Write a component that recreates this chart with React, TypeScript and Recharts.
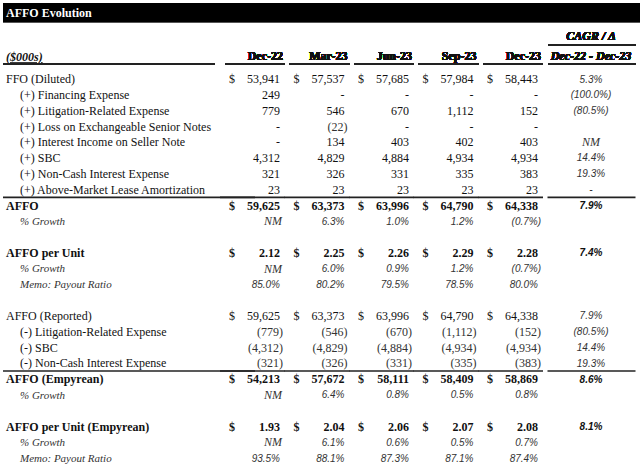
import React from "react";
import { ScatterChart, Scatter, XAxis, YAxis } from "recharts";

// table columns (x categories)
const columns = ["Dec-22", "Mar-23", "Jun-23", "Sep-23", "Dec-23", "CAGR"];

// row labels, "" = spacer row
const rowLabels = [
  "FFO (Diluted)",
  "(+) Financing Expense",
  "(+) Litigation-Related Expense",
  "(+) Loss on Exchangeable Senior Notes",
  "(+) Interest Income on Seller Note",
  "(+) SBC",
  "(+) Non-Cash Interest Expense",
  "(+) Above-Market Lease Amortization",
  "AFFO",
  "% Growth",
  "",
  "AFFO per Unit",
  "% Growth",
  "Memo: Payout Ratio",
  "",
  "AFFO (Reported)",
  "(-) Litigation-Related Expense",
  "(-) SBC",
  "(-) Non-Cash Interest Expense",
  "AFFO (Empyrean)",
  "% Growth",
  "",
  "AFFO per Unit (Empyrean)",
  "% Growth",
  "Memo: Payout Ratio",
];

const rowKinds = [
  "lead", "item", "item", "item", "item", "item", "item", "item",
  "total", "growth", "gap",
  "unit", "growth", "memo", "gap",
  "lead", "item", "item", "item",
  "total", "growth", "gap",
  "unit", "growth", "memo",
];

// values; 0 shows as "-", null as blank
const dec22 = [53941, 249, 779, 0, 0, 4312, 321, 23, 59625, "NM", null, 2.12, "NM", 85.0, null, 59625, -779, -4312, -321, 54213, "NM", null, 1.93, "NM", 93.5];
const mar23 = [57537, 0, 546, -22, 134, 4829, 326, 23, 63373, 6.3, null, 2.25, 6.0, 80.2, null, 63373, -546, -4829, -326, 57672, 6.4, null, 2.04, 6.1, 88.1];
const jun23 = [57685, 0, 670, 0, 403, 4884, 331, 23, 63996, 1.0, null, 2.26, 0.9, 79.5, null, 63996, -670, -4884, -331, 58111, 0.8, null, 2.06, 0.6, 87.3];
const sep23 = [57984, 0, 1112, 0, 402, 4934, 335, 23, 64790, 1.2, null, 2.29, 1.2, 78.5, null, 64790, -1112, -4934, -335, 58409, 0.5, null, 2.07, 0.5, 87.1];
const dec23 = [58443, 0, 152, 0, 403, 4934, 383, 23, 64338, -0.7, null, 2.28, -0.7, 80.0, null, 64338, -152, -4934, -383, 58869, 0.8, null, 2.08, 0.7, 87.4];
const cagr = [5.3, -100.0, -80.5, null, "NM", 14.4, 19.3, 0, 7.9, null, null, 7.4, null, null, null, 7.9, -80.5, 14.4, 19.3, 8.6, null, null, 8.1, null, null];

const colValues = [dec22, mar23, jun23, sep23, dec23, cagr];

const serif = "'Liberation Serif', 'Times New Roman', Tinos, serif";
const sans = "'Liberation Sans', Arial, sans-serif";
const ink = "#111";
const ruledRows = [8, 19];

function fmt(v: any, pct: boolean, dec: number) {
  if (v === null || v === undefined) return "";
  if (typeof v === "string") return v;
  if (v === 0) return "-";
  const a = Math.abs(v);
  const s = pct ? a.toFixed(1) + "%" : dec ? a.toFixed(dec) : a.toLocaleString("en-US");
  return v < 0 ? `(${s})` : s;
}

const font = (family: string, size: number, weight = "normal", style = "normal") => ({
  fontFamily: family,
  fontSize: size,
  fontWeight: weight,
  fontStyle: style,
});

function RowLabel(props: any) {
  const { x, y, payload } = props;
  const i = Number(payload.value);
  const kind = rowKinds[i];
  const indent = kind === "item" || kind === "growth" || kind === "memo";
  const left = x - 249 + (indent ? 14 : 0);
  const soft = kind === "growth" || kind === "memo";
  return (
    <g>
      {i === 0 && (
        <g>
          <text x={x - 249} y={y - 22} dy="0.35em" style={{ ...font(serif, 12, "bold", "italic"), textDecoration: "underline" }} fill={ink}>
            ($000s)
          </text>
          <line x1={x - 252} x2={x - 40} y1={y - 15} y2={y - 15} stroke="#222" strokeWidth={2} />
        </g>
      )}
      {ruledRows.includes(i) && <line x1={x - 252} x2={x} y1={y - 8} y2={y - 8} stroke="#222" strokeWidth={1.6} />}
      <text
        x={left}
        y={y}
        dy="0.35em"
        style={font(serif, soft ? 11 : 12, kind === "total" || kind === "unit" ? "bold" : "normal", soft ? "italic" : "normal")}
        fill={soft ? "#333" : ink}
      >
        {rowLabels[i]}
      </text>
    </g>
  );
}

function ColHeader(props: any) {
  const { x, y, payload } = props;
  const col = payload.value;
  if (col === "CAGR") {
    const c = x + 13.5;
    return (
      <g>
        <text x={c} y={y - 43} dy="0.35em" textAnchor="middle" style={font(serif, 12, "bold", "italic")} fill={ink}>CAGR / Δ</text>
        <line x1={c - 43} x2={c + 45} y1={y - 34} y2={y - 34} stroke="#222" strokeWidth={1.6} />
        <text x={c} y={y - 23} dy="0.35em" textAnchor="middle" style={font(serif, 12, "bold", "italic")} fill={ink}>Dec-22 - Dec-23</text>
        <line x1={c - 43} x2={c + 45} y1={y - 15} y2={y - 15} stroke="#222" strokeWidth={2} />
      </g>
    );
  }
  return (
    <g>
      <text x={x + 28} y={y - 23} dy="0.35em" textAnchor="end" style={font(serif, 12, "bold")} fill={ink}>{col}</text>
      <line x1={x - 30} x2={x + 30} y1={y - 15} y2={y - 15} stroke="#222" strokeWidth={2} />
    </g>
  );
}

function CellText(props: any) {
  const { cx, cy, payload } = props;
  const { col, row, v } = payload;
  const kind = rowKinds[row];
  const bold = kind === "total" || kind === "unit";
  const isCagr = col === "CAGR";
  const parts: any[] = [];

  if (ruledRows.includes(row)) {
    parts.push(
      isCagr ? (
        <line key="r" x1={cx - 30} x2={cx + 58} y1={cy - 8} y2={cy - 8} stroke="#222" strokeWidth={1.6} />
      ) : (
        <line key="r" x1={cx - 35} x2={cx + 30} y1={cy - 8} y2={cy - 8} stroke="#222" strokeWidth={1.6} />
      )
    );
  }

  if (isCagr) {
    const isNM = v === "NM";
    parts.push(
      <text
        key="v"
        x={cx + 13.5}
        y={cy}
        dy="0.35em"
        textAnchor="middle"
        style={font(isNM ? serif : sans, isNM ? 12 : 10, bold ? "bold" : "normal", "italic")}
        fill={bold ? ink : "#333"}
      >
        {fmt(v, true, 0)}
      </text>
    );
    return <g>{parts}</g>;
  }

  if (kind === "growth" || kind === "memo") {
    const isNM = v === "NM";
    const neg = typeof v === "number" && v < 0;
    parts.push(
      <text
        key="v"
        x={cx + (isNM ? 27 : neg ? 28 : 25)}
        y={cy}
        dy="0.35em"
        textAnchor="end"
        style={font(isNM ? serif : sans, isNM ? 12 : 10, "normal", "italic")}
        fill="#333"
      >
        {fmt(v, true, 0)}
      </text>
    );
    return <g>{parts}</g>;
  }

  if (kind === "gap") return <g>{parts}</g>;

  const neg = typeof v === "number" && v < 0;
  if (kind === "lead" || kind === "total" || kind === "unit") {
    parts.push(
      <text key="d" x={cx - 26} y={cy} dy="0.35em" style={font(serif, 12, bold ? "bold" : "normal")} fill={ink}>
        $
      </text>
    );
  }
  parts.push(
    <text
      key="v"
      x={cx + (neg ? 28 : 25)}
      y={cy}
      dy="0.35em"
      textAnchor="end"
      style={font(serif, 12, bold ? "bold" : "normal")}
      fill={neg ? "#333" : ink}
    >
      {fmt(v, false, kind === "unit" ? 2 : 0)}
    </text>
  );
  return <g>{parts}</g>;
}

export default function App() {
  return (
    <div style={{ position: "absolute", left: 0, top: 0, width: 640, height: 470, background: "#fff" }}>
      <div
        style={{
          position: "absolute",
          left: 3,
          top: 3,
          width: 637,
          height: 20,
          background: "#000",
          borderBottom: "1px solid #555",
          boxSizing: "border-box",
          color: "#fff",
          fontFamily: serif,
          fontWeight: "bold",
          fontSize: 12,
          lineHeight: "20px",
          paddingLeft: 3,
        }}
      >
        AFFO Evolution
      </div>
      <ScatterChart width={640} height={470} margin={{ top: 19, right: 62.5, bottom: 12, left: 0 }}>
        <XAxis
          xAxisId={0}
          type="category"
          dataKey="col"
          orientation="top"
          scale="point"
          allowDuplicatedCategory={false}
          height={60}
          interval={0}
          tickSize={0}
          tickMargin={0}
          axisLine={false}
          tickLine={false}
          tick={ColHeader}
        />
        <YAxis
          yAxisId={0}
          type="category"
          dataKey="row"
          scale="point"
          reversed
          allowDuplicatedCategory={false}
          width={255}
          interval={0}
          tickSize={0}
          tickMargin={0}
          axisLine={false}
          tickLine={false}
          tick={RowLabel}
        />
        {columns.map((col, c) => (
          <Scatter
            key={col}
            data={rowLabels.map((_, i) => ({ col, row: i, v: colValues[c][i] }))}
            isAnimationActive={false}
            shape={(p: any) => <CellText {...p} />}
          />
        ))}
      </ScatterChart>
    </div>
  );
}
